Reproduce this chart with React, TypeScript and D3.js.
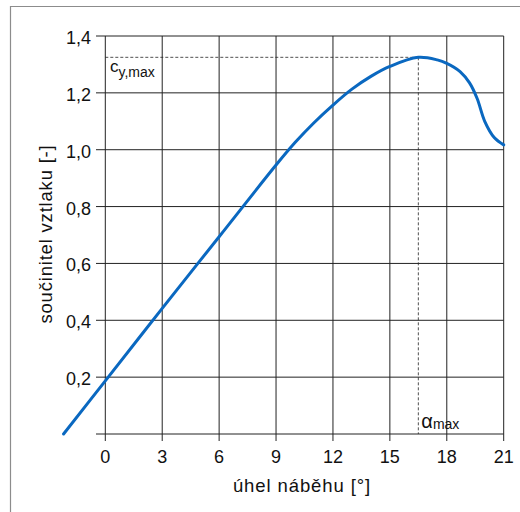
import * as d3 from "d3";
import React, { useRef, useEffect } from "react";

// lift curve
const alpha = [-2.2, 0, 3, 6, 9, 10, 11, 12, 13, 14, 15, 16.5, 17.5, 18, 18.7, 19.2, 19.6, 20, 20.5, 21];
const cl = [0, 0.187, 0.442, 0.694, 0.946, 1.025, 1.095, 1.157, 1.213, 1.258, 1.293, 1.325, 1.316, 1.304, 1.275, 1.235, 1.18, 1.1, 1.043, 1.017];

const xTicks = [0, 3, 6, 9, 12, 15, 18, 21];
const yTicks = [0, 0.2, 0.4, 0.6, 0.8, 1.0, 1.2, 1.4];

const alphaMax = 16.5;
const clMax = 1.325;

const width = 520;
const height = 512;
const font = "Liberation Sans, Arial, sans-serif";

export default function App() {
  const ref = useRef(null);

  useEffect(() => {
    const svg = d3.select(ref.current);
    svg.selectAll("*").remove();

    const x = d3.scaleLinear().domain([0, 21]).range([105.3, 503.7]);
    const y = d3.scaleLinear().domain([0, 1.4]).range([434, 36]);

    // outer frame (only top and left visible)
    svg
      .append("path")
      .attr("d", "M10.5,512 L10.5,6.5 L520,6.5")
      .attr("fill", "none")
      .attr("stroke", "#8c8c8c")
      .attr("stroke-width", 1.2);

    // grid
    svg
      .selectAll(".hgrid")
      .data(yTicks)
      .enter()
      .append("line")
      .attr("x1", 96)
      .attr("x2", x(21))
      .attr("y1", d => y(d))
      .attr("y2", d => y(d))
      .attr("stroke", "#222")
      .attr("stroke-width", 1);

    svg
      .selectAll(".vgrid")
      .data(xTicks)
      .enter()
      .append("line")
      .attr("x1", d => x(d))
      .attr("x2", d => x(d))
      .attr("y1", y(1.4))
      .attr("y2", 441)
      .attr("stroke", "#222")
      .attr("stroke-width", 1);

    // tick labels
    svg
      .selectAll(".ylab")
      .data(yTicks.filter(d => d > 0))
      .enter()
      .append("text")
      .attr("x", 91)
      .attr("y", d => y(d) + 8)
      .attr("text-anchor", "end")
      .attr("font-family", font)
      .attr("font-size", "18px")
      .attr("fill", "#111")
      .text(d => d.toFixed(1).replace(".", ","));

    svg
      .selectAll(".xlab")
      .data(xTicks)
      .enter()
      .append("text")
      .attr("x", d => x(d))
      .attr("y", 463)
      .attr("text-anchor", "middle")
      .attr("font-family", font)
      .attr("font-size", "18px")
      .attr("fill", "#111")
      .text(d => d);

    // dashed max markers
    svg
      .append("line")
      .attr("x1", x(0))
      .attr("x2", x(alphaMax))
      .attr("y1", y(clMax))
      .attr("y2", y(clMax))
      .attr("stroke", "#222")
      .attr("stroke-width", 0.8)
      .attr("stroke-dasharray", "3,2");

    svg
      .append("line")
      .attr("x1", x(alphaMax))
      .attr("x2", x(alphaMax))
      .attr("y1", y(clMax))
      .attr("y2", y(0))
      .attr("stroke", "#222")
      .attr("stroke-width", 0.8)
      .attr("stroke-dasharray", "3,2");

    // curve
    const line = d3
      .line()
      .x(d => x(d[0]))
      .y(d => y(d[1]))
      .curve(d3.curveCatmullRom.alpha(0.5));

    svg
      .append("path")
      .datum(alpha.map((a, i) => [a, cl[i]]))
      .attr("d", line)
      .attr("fill", "none")
      .attr("stroke", "#0a68c0")
      .attr("stroke-width", 3)
      .attr("stroke-linecap", "round");

    // annotations
    const cy = svg
      .append("text")
      .attr("x", 110)
      .attr("y", 72)
      .attr("font-family", font)
      .attr("font-size", "17px")
      .attr("fill", "#111");
    cy.append("tspan").text("c");
    cy.append("tspan").attr("dy", 5).attr("font-size", "14px").text("y,max");

    const am = svg
      .append("text")
      .attr("x", x(alphaMax) + 3)
      .attr("y", 428)
      .attr("font-family", font)
      .attr("font-size", "20px")
      .attr("fill", "#111");
    am.append("tspan").text("α");
    am.append("tspan").attr("dy", 1).attr("font-size", "14px").text("max");

    // axis titles
    svg
      .append("text")
      .attr("x", 302)
      .attr("y", 492)
      .attr("text-anchor", "middle")
      .attr("font-family", font)
      .attr("font-size", "18.5px")
      .attr("letter-spacing", "0.9px")
      .attr("fill", "#111")
      .text("úhel náběhu [°]");

    svg
      .append("text")
      .attr("transform", "translate(52,234) rotate(-90)")
      .attr("text-anchor", "middle")
      .attr("font-family", font)
      .attr("font-size", "18.5px")
      .attr("letter-spacing", "0.8px")
      .attr("fill", "#111")
      .text("součinitel vztlaku [-]");
  }, []);

  return (
    <svg
      ref={ref}
      width={width}
      height={height}
      style={{ position: "absolute", left: 0, top: 0, background: "#fff" }}
    ></svg>
  );
}
